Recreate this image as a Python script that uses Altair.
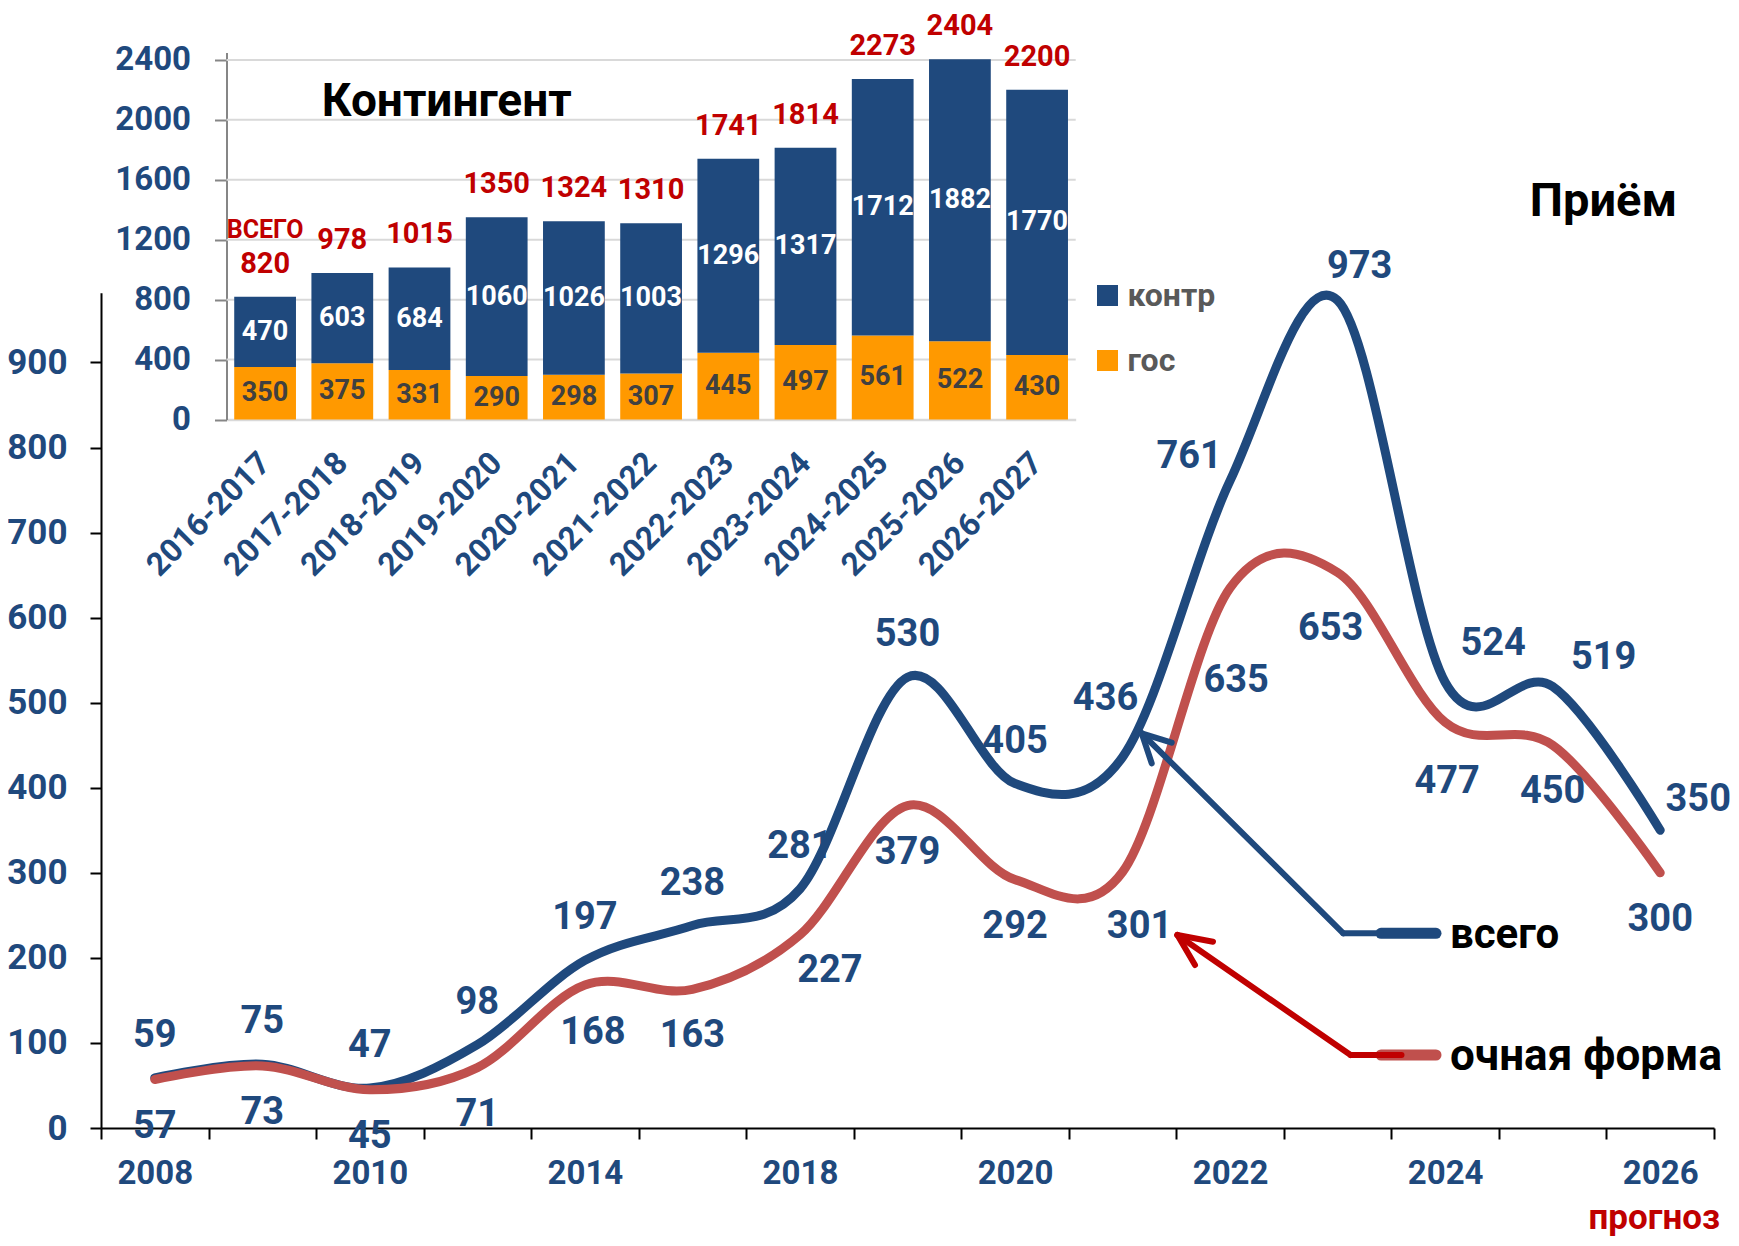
import altair as alt
import pandas as pd

# ---------------- data: main chart "Приём" ----------------
years = ["2008", "2009", "2010", "2012", "2014", "2016", "2018", "2019",
         "2020", "2021", "2022", "2023", "2024", "2025", "2026"]
shown_years = ["2008", "2010", "2014", "2018", "2020", "2022", "2024", "2026"]
total = [59, 75, 47, 98, 197, 238, 281, 530, 405, 436, 761, 973, 524, 519, 350]
fulltime = [57, 73, 45, 71, 168, 163, 227, 379, 292, 301, 635, 653, 477, 450, 300]
main_y_ticks = [0, 100, 200, 300, 400, 500, 600, 700, 800, 900]

# ---------------- data: inset "Контингент" ----------------
periods = ["2016-2017", "2017-2018", "2018-2019", "2019-2020", "2020-2021",
           "2021-2022", "2022-2023", "2023-2024", "2024-2025", "2025-2026",
           "2026-2027"]
gos = [350, 375, 331, 290, 298, 307, 445, 497, 561, 522, 430]
kontr = [470, 603, 684, 1060, 1026, 1003, 1296, 1317, 1712, 1882, 1770]
totals = [820, 978, 1015, 1350, 1324, 1310, 1741, 1814, 2273, 2404, 2200]
parts = ["контр", "гос"]
inset_y_ticks = [0, 400, 800, 1200, 1600, 2000, 2400]

# ---------------- styles ----------------
FONT = "Roboto"
BLUE = "#1F497D"
ORANGE = "#FF9900"
RED_LINE = "#C0504D"
RED_DARK = "#C00000"
GREY_TXT = "#595959"

W, H = 1613, 1120

# label nudges (pixels) for the line data labels
total_default = (0, -42)
total_nudge = {"2021": (-17, -58), "2022": (-41, -24), "2023": (22, -33),
               "2024": (48, -38), "2025": (51, -29), "2026": (38, -30)}
ft_default = (0, 47)
ft_nudge = {"2014": (8, 48), "2018": (30, 36), "2021": (17, 55),
            "2022": (6, 93), "2023": (-7, 56), "2024": (2, 60)}

main_df = pd.DataFrame({"year": years, "total": total, "fulltime": fulltime})


def x_main():
    return alt.Scale(type="band", domain=years, range=[0, W],
                     paddingInner=0, paddingOuter=0)


def y_main():
    return alt.Scale(domain=[0, 982], range=[H, H - 0.8506 * 982], nice=False, zero=False)


label_expr = ("indexof([" + ",".join("'%s'" % y for y in shown_years) +
              "], datum.value) >= 0 ? datum.label : ''")

x_axis_main = alt.Axis(orient="bottom", title=None, tickBand="extent", labelExpr=label_expr,
                       labelFont=FONT, labelFontSize=33, labelFontWeight="bold",
                       labelColor=BLUE, labelPadding=18, labelAngle=0,
                       tickSize=11, tickWidth=2, tickColor="black",
                       domainColor="black", domainWidth=2, grid=False,
                       labelOverlap=False)
y_axis_main = alt.Axis(orient="left", title=None, values=main_y_ticks, format="d",
                       labelFont=FONT, labelFontSize=35, labelFontWeight="bold",
                       labelColor=BLUE, labelPadding=23, tickSize=11, tickWidth=2,
                       tickColor="black", domainColor="black", domainWidth=2,
                       grid=False)


def xm(axis=None):
    return alt.X("year:N", scale=x_main(), bandPosition=0.5, axis=axis)


line_total = alt.Chart(main_df).mark_line(
    color=BLUE, strokeWidth=9, interpolate="cardinal", strokeCap="round"
).encode(x=xm(x_axis_main), y=alt.Y("total:Q", scale=y_main(), axis=y_axis_main))

line_ft = alt.Chart(main_df).mark_line(
    color=RED_LINE, strokeWidth=9, interpolate="cardinal", strokeCap="round"
).encode(x=xm(), y=alt.Y("fulltime:Q", scale=y_main(), axis=None))


def data_labels(field, nudges, default):
    groups = {}
    for yv in years:
        groups.setdefault(nudges.get(yv, default), []).append(yv)
    out = []
    for (dx, dy), ys in groups.items():
        out.append(
            alt.Chart(main_df)
            .transform_filter(alt.FieldOneOfPredicate(field="year", oneOf=ys))
            .mark_text(dx=dx, dy=dy, font=FONT, fontSize=38, fontWeight="bold",
                       color=BLUE, align="center", baseline="middle")
            .encode(x=xm(), y=alt.Y(f"{field}:Q", scale=y_main(), axis=None),
                    text=alt.Text(f"{field}:Q", format="d"))
        )
    return out


def seg(x1, y1, x2, y2, color, width):
    return alt.Chart(alt.Data(values=[{}])).mark_rule(
        color=color, strokeWidth=width, strokeCap="round"
    ).encode(x=alt.value(x1), y=alt.value(y1), x2=alt.value(x2), y2=alt.value(y2))


def note(txt, x, y, size, color, align="left", baseline="alphabetic"):
    return alt.Chart(alt.Data(values=[{}])).mark_text(
        text=txt, font=FONT, fontSize=size, fontWeight="bold", color=color,
        align=align, baseline=baseline
    ).encode(x=alt.value(x), y=alt.value(y))


annotations = [
    seg(1280, 925.3, 1335, 925.3, BLUE, 11),
    seg(1040.7, 725.3, 1242.3, 925.3, BLUE, 6),
    seg(1242.3, 925.3, 1280, 925.3, BLUE, 6),
    seg(1040.7, 725.3, 1070.7, 734.7, BLUE, 6),
    seg(1040.7, 725.3, 1050.7, 755.3, BLUE, 6),
    seg(1280, 1047, 1335, 1047, RED_LINE, 11),
    seg(1076.4, 927, 1249.6, 1047, RED_DARK, 6),
    seg(1249.6, 1047, 1300.5, 1047, RED_DARK, 6),
    seg(1076.4, 927, 1112, 933.7, RED_DARK, 6),
    seg(1076.4, 927, 1094, 957, RED_DARK, 6),
    note("всего", 1349, 940, 42, "black"),
    note("очная форма", 1349, 1062, 44, "black"),
    note("прогноз", 1619, 1221, 35, RED_DARK, align="right"),
    note("Приём", 1502.5, 208, 47, "black", align="center"),
    note("Контингент", 345.7, 108, 46, "black", align="center"),
]

# ---------------- inset ----------------
bar_rows = []
for p, g, k in zip(periods, gos, kontr):
    bar_rows.append({"period": p, "part": "гос", "value": g, "ord": 0})
    bar_rows.append({"period": p, "part": "контр", "value": k, "ord": 1})
bar_df = pd.DataFrame(bar_rows)
wide_df = pd.DataFrame({"period": periods, "gos": gos, "kontr": kontr, "total": totals})
grid_df = pd.DataFrame({"v": inset_y_ticks[1:]})

IN_X0, IN_X1 = 125.5, 974.7
IN_Y0 = 411.5
IN_PX = 0.14983


def x_in():
    return alt.Scale(type="band", domain=periods, range=[IN_X0, IN_X1],
                     paddingInner=0.2, paddingOuter=0.1)


def y_in():
    return alt.Scale(domain=[0, 2450], range=[IN_Y0, IN_Y0 - IN_PX * 2450],
                     nice=False, zero=False)


x_axis_in = alt.Axis(orient="bottom", offset=-(H - IN_Y0), title=None, ticks=False,
                     domainColor="#D9D9D9", domainWidth=2.5, labelAngle=-45,
                     labelAlign="right", labelBaseline="middle", labelPadding=38,
                     labelFont=FONT, labelFontSize=32, labelFontWeight="bold",
                     labelColor=BLUE, labelOverlap=False, grid=False)
y_axis_in = alt.Axis(orient="left", offset=-IN_X0, title=None, values=inset_y_ticks,
                     format="d", grid=False, domainColor="#868686", domainWidth=2,
                     tickColor="#868686", tickWidth=2, tickSize=12, labelPadding=24,
                     labelFont=FONT, labelFontSize=33, labelFontWeight="bold",
                     labelColor=BLUE)

gridlines = alt.Chart(grid_df).mark_rule(color="#D9D9D9", strokeWidth=2).encode(
    y=alt.Y("v:Q", scale=y_in(), axis=None),
    x=alt.value(IN_X0), x2=alt.value(IN_X1))

bars = alt.Chart(bar_df).mark_bar().encode(
    x=alt.X("period:N", scale=x_in(), axis=x_axis_in),
    y=alt.Y("value:Q", scale=y_in(), axis=y_axis_in, stack="zero"),
    order=alt.Order("ord:Q", sort="ascending"),
    color=alt.Color("part:N", scale=alt.Scale(domain=parts, range=[BLUE, ORANGE]),
                    legend=alt.Legend(orient="none", legendX=990.5, legendY=271.5,
                                      title=None, symbolType="square", symbolSize=441,
                                      symbolStrokeWidth=0, labelFont=FONT,
                                      labelFontSize=32, labelFontWeight="bold",
                                      labelColor=GREY_TXT, labelOffset=4,
                                      rowPadding=33, padding=0)),
)


def xi():
    return alt.X("period:N", scale=x_in(), bandPosition=0.5, axis=None)


gos_lbl = alt.Chart(wide_df).transform_calculate(mid="datum.gos / 2").mark_text(
    font=FONT, fontSize=27, fontWeight="bold", color="#404040", baseline="middle"
).encode(x=xi(), y=alt.Y("mid:Q", scale=y_in(), axis=None),
         text=alt.Text("gos:Q", format="d"))

kontr_lbl = alt.Chart(wide_df).transform_calculate(mid="datum.gos + datum.kontr / 2").mark_text(
    font=FONT, fontSize=27, fontWeight="bold", color="white", baseline="middle"
).encode(x=xi(), y=alt.Y("mid:Q", scale=y_in(), axis=None),
         text=alt.Text("kontr:Q", format="d"))

total_lbl = alt.Chart(wide_df).mark_text(
    font=FONT, fontSize=29, fontWeight="bold", color=RED_DARK, baseline="middle", dy=-33
).encode(x=xi(), y=alt.Y("total:Q", scale=y_in(), axis=None),
         text=alt.Text("total:Q", format="d"))

vsego_lbl = alt.Chart(wide_df).transform_filter(
    alt.FieldEqualPredicate(field="period", equal=periods[0])
).mark_text(
    text="ВСЕГО", font=FONT, fontSize=25, fontWeight="bold", color=RED_DARK,
    baseline="middle", dy=-67
).encode(x=xi(), y=alt.Y("total:Q", scale=y_in(), axis=None))

layers = [line_total, line_ft,
          *data_labels("total", total_nudge, total_default),
          *data_labels("fulltime", ft_nudge, ft_default),
          *annotations,
          gridlines, bars, gos_lbl, kontr_lbl, total_lbl, vsego_lbl]

chart = alt.layer(*layers).resolve_scale(
    x="independent", y="independent"
).resolve_axis(
    x="independent", y="independent"
).properties(
    width=W, height=H,
    autosize=alt.AutoSizeParams(type="none"),
    padding={"left": 93, "top": 0, "right": 17, "bottom": 110},
).configure_view(stroke=None)

chart.save("out.html", embed_options={"renderer": "svg", "actions": False})
